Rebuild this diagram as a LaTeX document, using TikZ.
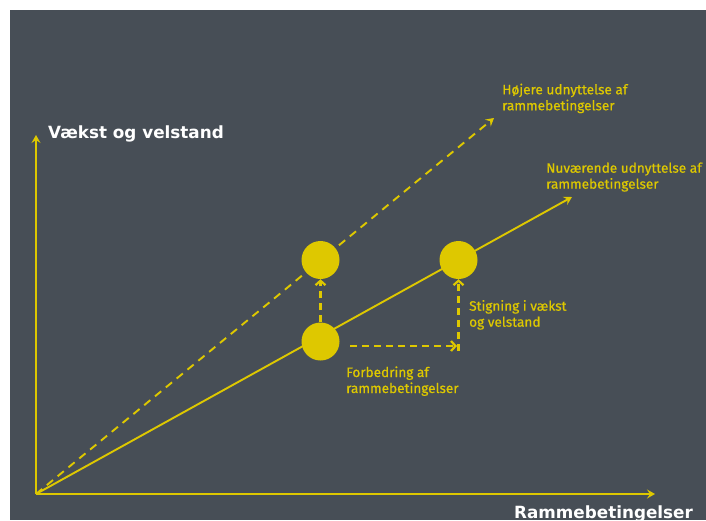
\documentclass[tikz,border=0pt]{standalone}
\usepackage{fontspec}
\setmainfont{Fira Sans}
\newfontfamily\labfont[FakeBold=0.6]{Fira Sans}
\newfontfamily\headfont{DejaVu Sans}
\usetikzlibrary{arrows.meta}
\definecolor{bg}{RGB}{71,78,86}
\definecolor{gold}{RGB}{222,200,0}
\begin{document}
\begin{tikzpicture}[x=1pt,y=-1pt,
  axis/.style={draw=gold, line width=2.4pt, -{Stealth[length=8pt,width=9pt,inset=3pt]}},
  trend/.style={draw=gold, line width=1.9pt, -{Stealth[length=8pt,width=9pt,inset=3pt]}},
  trenddash/.style={trend, dash pattern=on 8pt off 6pt},
  move/.style={draw=gold, line width=2.2pt, dash pattern=on 7pt off 5pt, -{Straight Barb[length=4.5pt,width=10pt]}},
  dot/.style={circle, fill=gold, minimum size=38pt, inner sep=0pt},
  lab/.style={text=gold, font=\labfont\fontsize{13.6}{16}\selectfont, align=left, anchor=base west, inner sep=0pt},
  title/.style={text=white, font=\headfont\bfseries\fontsize{16.8}{20}\selectfont, anchor=base west, inner sep=0pt}]
\useasboundingbox (0,0) rectangle (706,520);
\fill[white] (0,0) rectangle (706,520);
\fill[bg] (10,10) rectangle (706,520);
% axes
\coordinate (O) at (36,494);
\coordinate (Ytip) at (36,135);
\coordinate (Xtip) at (655,494);
\coordinate (Stip) at (572,197);
\coordinate (Dtip) at (494,118);
\draw[axis] (O) -- (Ytip);
\draw[axis] (O) -- (Xtip);
\draw[trend] (O) -- (Stip);
\draw[trenddash] (O) -- (Dtip);
% dots
\node[dot] (c1) at (320.5,260) {};
\node[dot] (c2) at (458.5,260) {};
\node[dot] (c3) at (320.5,341.5) {};
% moves
\coordinate (h1) at (350,346);
\coordinate (h2) at (457,346);
\coordinate (v1) at (458.5,351);
\draw[move] (c3.north) -- (c1.south);
\draw[move] (h1) -- (h2);
\draw[move] (v1) -- (c2.south);
% labels
\node[title] (ty) at (48,138) {Vækst og velstand};
\node[title] (tx) at (514,518.5) {Rammebetingelser};
\node[lab] (l1) at (502,110.3) {Højere udnyttelse af\\rammebetingelser};
\node[lab] (l2) at (546,188.7) {Nuværende udnyttelse af\\rammebetingelser};
\node[lab] (l3) at (469,326.7) {Stigning i vækst\\og velstand};
\node[lab] (l4) at (346,393) {Forbedring af\\rammebetingelser};
\end{tikzpicture}
\end{document}
